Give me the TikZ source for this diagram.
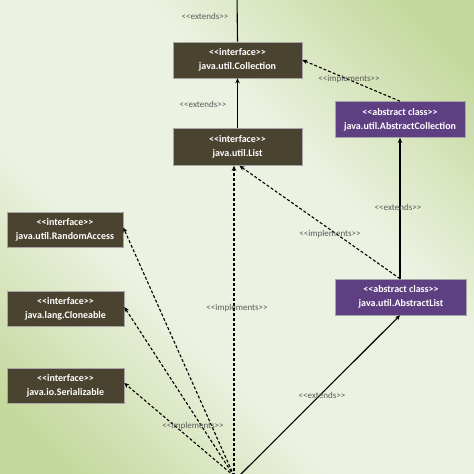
\documentclass[tikz,border=0pt]{standalone}
\usepackage{fontspec}
\setmainfont{Carlito}
\usetikzlibrary{arrows.meta}
\definecolor{bgG}{RGB}{196,216,156}
\definecolor{bgL}{RGB}{236,242,225}
\definecolor{boxD}{RGB}{74,67,48}
\definecolor{boxP}{RGB}{94,64,130}
\definecolor{lbl}{RGB}{90,90,90}
\newcommand\stl[1]{<\kern0pt<#1>\kern0pt>}
\tikzset{
  ibox/.style={draw=gray!70, line width=0.6pt, fill=boxD, text=white, font=\fontsize{10}{14}\selectfont\bfseries, align=center, inner sep=0pt, minimum height=36pt},
  abox/.style={ibox, fill=boxP},
  lab/.style={text=lbl, font=\fontsize{9}{10}\selectfont, inner sep=0pt},
  ext/.style={line width=1.1pt, -{Stealth[length=5pt,width=4.5pt]}},
  impl/.style={ext, dash pattern=on 3pt off 2pt},
  plain/.style={line width=1.1pt}
}
\begin{document}
\begin{tikzpicture}[x=1pt,y=-1pt]
\begin{scope}
\clip (0,0) rectangle (474,474);
\foreach \i in {0,...,119}{
  \pgfmathsetmacro\vt{(\i+0.5)/120}
  \pgfmathsetmacro\vd{abs(2*\vt-1)}
  \pgfmathsetmacro\vg{min(1,max(0,(\vd-0.3)/0.55))*100}
  \pgfmathsetmacro\sa{7.9*\i-474}
  \pgfmathsetmacro\sb{7.9*\i-464.6}
  \fill[bgG!\vg!bgL] (\sa-500,-500) -- (\sa+1000,1000) -- (\sb+1000,1000) -- (\sb-500,-500) -- cycle;
}
\end{scope}
\useasboundingbox (0,0) rectangle (474,474);
\node[ibox, minimum width=129pt] (coll) at (237.5,60) {\stl{interface}\\java.util.Collection};
\node[ibox, minimum width=129pt, minimum height=37pt] (list) at (237.5,147) {\stl{interface}\\java.util.List};
\node[abox, minimum width=130pt] (acoll) at (400,119.5) {\stl{abstract class}\\java.util.AbstractCollection};
\node[abox, minimum width=131pt] (alist) at (401,297) {\stl{abstract class}\\java.util.AbstractList};
\node[ibox, minimum width=116pt, minimum height=35pt] (ra) at (65,229.5) {\stl{interface}\\java.util.RandomAccess};
\node[ibox, minimum width=117pt, minimum height=35pt] (cl) at (65.5,308.5) {\stl{interface}\\java.lang.Cloneable};
\node[ibox, minimum width=117pt, minimum height=35pt] (se) at (65.5,385.5) {\stl{interface}\\java.io.Serializable};
\coordinate (top) at (237,-5);
\coordinate (b) at (234,476);
\coordinate (b2) at (239,476);
\draw[plain] (top) -- (coll.north);
\draw[ext] (list.north) -- (coll.south);
\draw[impl] (acoll.north) -- (coll.east);
\draw[ext] (alist.north -| acoll.south) -- (acoll.south);
\draw[impl] (alist.north -| acoll.south) -- ([xshift=2pt]list.south);
\draw[impl] (b) -- (b |- list.south);
\draw[impl] (b) -- ([yshift=2pt]ra.east);
\draw[impl] (b) -- ([yshift=1.5pt]cl.east);
\draw[impl] (b) -- ([yshift=2.5pt]se.east);
\draw[ext] (b2) -- (alist.south -| acoll.south);
\node[lab] at (205,16) {\stl{extends}};
\node[lab] at (203,104) {\stl{extends}};
\node[lab] at (349,79) {\stl{implements}};
\node[lab] at (398,207) {\stl{extends}};
\node[lab] at (330,234) {\stl{implements}};
\node[lab] at (237,308) {\stl{implements}};
\node[lab] at (193,426) {\stl{implements}};
\node[lab] at (322,395) {\stl{extends}};
\end{tikzpicture}
\end{document}
